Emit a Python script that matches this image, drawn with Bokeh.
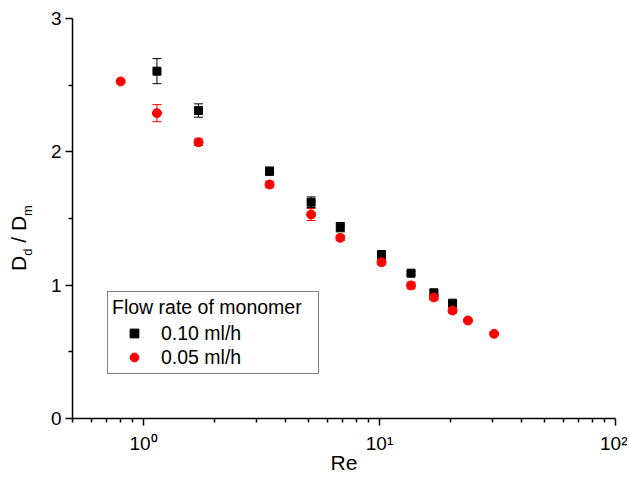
from bokeh.plotting import figure
from bokeh.models import (ColumnDataSource, Whisker, TeeHead, Legend, LegendItem,
                          FixedTicker, Range1d, Div)
from bokeh.layouts import row
from bokeh.embed import file_html
from bokeh.resources import INLINE

# Series 1: 0.10 ml/h (black squares)
re_a = [1.14, 1.71, 3.42, 5.13, 6.82, 10.2, 13.6, 17.0, 20.4]
dd_a = [2.605, 2.31, 1.855, 1.622, 1.435, 1.23, 1.09, 0.943, 0.865]
err_a = [0.094, 0.05, 0.03, 0.04, 0.035, 0.02, 0.015, 0.015, 0.015]

# Series 2: 0.05 ml/h (red circles)
re_b = [0.80, 1.14, 1.71, 3.42, 5.13, 6.82, 10.2, 13.6, 17.0, 20.4, 23.7, 30.6]
dd_b = [2.528, 2.29, 2.072, 1.755, 1.53, 1.355, 1.172, 0.998, 0.908, 0.81, 0.735, 0.635]
err_b = [0.01, 0.064, 0.025, 0.025, 0.045, 0.02, 0.02, 0.025, 0.02, 0.02, 0.01, 0.01]

series_labels = ["0.10 ml/h", "0.05 ml/h"]
legend_title = "Flow rate of monomer"
x_ticks = [1, 10, 100]
x_tick_labels = {1: "10\u2070", 10: "10\u00b9", 100: "10\u00b2"}
y_ticks = [0, 1, 2, 3]

FONT = "Liberation Sans"

src_a = ColumnDataSource(dict(x=re_a, y=dd_a,
                              upper=[v + e for v, e in zip(dd_a, err_a)],
                              lower=[v - e for v, e in zip(dd_a, err_a)]))
src_b = ColumnDataSource(dict(x=re_b, y=dd_b,
                              upper=[v + e for v, e in zip(dd_b, err_b)],
                              lower=[v - e for v, e in zip(dd_b, err_b)]))

LABEL_W = 40

p = figure(x_axis_type="log", x_range=Range1d(0.5, 100), y_range=Range1d(0, 3),
           frame_width=543, frame_height=400,
           min_border_left=72 - LABEL_W, min_border_right=12, min_border_top=18, min_border_bottom=40,
           output_backend="svg", toolbar_location=None)
p.outline_line_color = None
p.xgrid.visible = False
p.ygrid.visible = False
p.background_fill_color = "white"
p.border_fill_color = "white"

for axis in (p.xaxis[0], p.yaxis[0]):
    axis.axis_line_width = 1.5
    axis.axis_line_color = "black"
    axis.major_tick_line_width = 1.5
    axis.minor_tick_line_width = 1.5
    axis.major_tick_line_color = "black"
    axis.minor_tick_line_color = "black"
    axis.major_tick_out = 7
    axis.major_tick_in = 0
    axis.minor_tick_out = 4
    axis.minor_tick_in = 0
    axis.major_label_text_font = FONT
    axis.major_label_text_font_size = "19px"
    axis.major_label_text_color = "black"

minor_x = [m * 10 ** e for e in (-1, 0, 1) for m in range(2, 10) if 0.5 <= m * 10 ** e <= 100]
p.xaxis.ticker = FixedTicker(ticks=x_ticks, minor_ticks=minor_x)
p.xaxis.major_label_overrides = x_tick_labels
p.xaxis.major_label_standoff = 7
p.xaxis.axis_label = "Re"
p.xaxis.axis_label_text_font = FONT
p.xaxis.axis_label_text_font_size = "21px"
p.xaxis.axis_label_text_font_style = "normal"
p.xaxis.axis_label_text_color = "black"
p.xaxis.axis_label_standoff = -6

p.yaxis.ticker = FixedTicker(ticks=y_ticks, minor_ticks=[0.5, 1.5, 2.5])
p.yaxis.major_label_standoff = 4

# error bars
for src, col in ((src_a, "black"), (src_b, "red")):
    w = Whisker(source=src, base="x", upper="upper", lower="lower", dimension="height",
                line_color=col, line_width=1,
                upper_head=TeeHead(size=9, line_color=col, line_width=1),
                lower_head=TeeHead(size=9, line_color=col, line_width=1))
    p.add_layout(w)

ra = p.scatter("x", "y", source=src_a, marker="square", size=8, color="black")
rb = p.scatter("x", "y", source=src_b, marker="circle", size=9, color="red")

legend = Legend(items=[LegendItem(label=series_labels[0], renderers=[ra]),
                       LegendItem(label=series_labels[1], renderers=[rb])],
                title=legend_title, location=(35, 44),
                border_line_color="black", border_line_width=1,
                padding=4, spacing=0, margin=0,
                label_height=24, glyph_height=22, glyph_width=44, label_standoff=5,
                label_width=153,
                title_standoff=2,
                title_text_font=FONT, title_text_font_size="19.5px", title_text_font_style="normal",
                title_text_color="black",
                label_text_font=FONT, label_text_font_size="19.5px", label_text_color="black",
                background_fill_alpha=1.0)
p.add_layout(legend)

# y axis label D_d / D_m (rotated, with real subscripts)
ylabel_html = (
    '<div style="position:relative;width:%dpx;height:470px;">'
    '<div style="position:absolute;left:21px;top:238px;'
    'transform:translate(-50%%,-50%%) rotate(-90deg);white-space:nowrap;'
    "font-family:'Liberation Sans';font-size:21px;color:black;line-height:1;\">"
    'D<sub style="font-size:13px">d</sub> / D<sub style="font-size:13px">m</sub>'
    '</div></div>' % LABEL_W)
ydiv = Div(text=ylabel_html, width=LABEL_W, height=470, margin=0)

layout = row(ydiv, p, spacing=0)

open("out.html", "w").write(file_html(layout, INLINE))
